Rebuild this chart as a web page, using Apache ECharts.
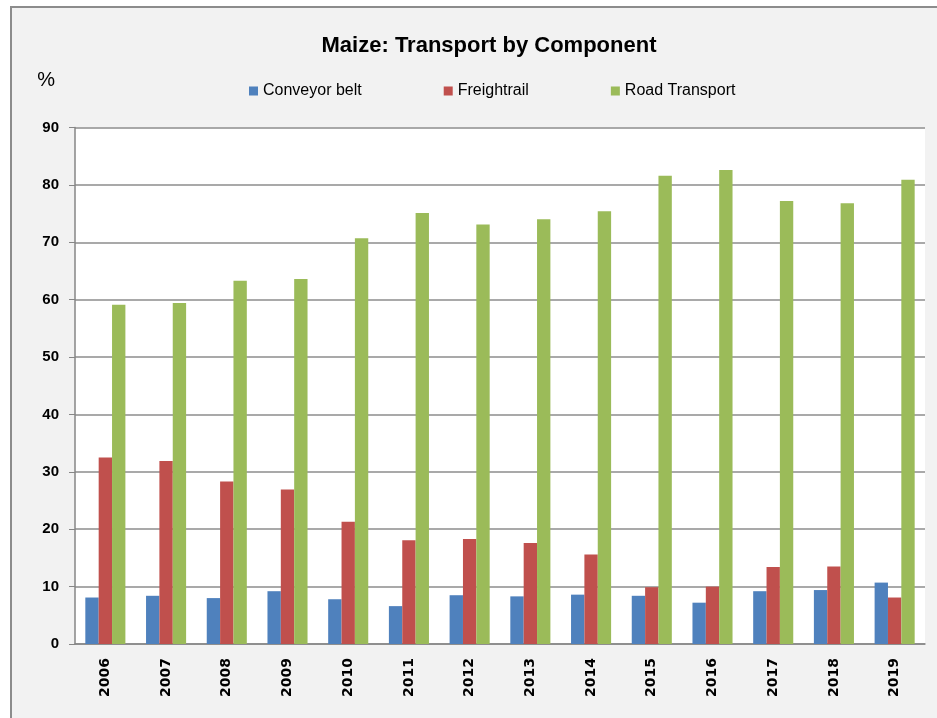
<!DOCTYPE html>
<html lang="en">
<head>
<meta charset="UTF-8">
<title>Maize: Transport by Component</title>
<script src="https://cdn.jsdelivr.net/npm/echarts@6/dist/echarts.min.js"></script>
<style>
  html,body{margin:0;width:937px;height:718px;background:#fff;overflow:hidden;}
  #frame{position:absolute;left:10px;top:6px;width:940px;height:730px;background:#f2f2f2;
         border-left:2px solid #8c8c8c;border-top:2px solid #8c8c8c;}
  #chart{position:absolute;left:0;top:0;width:937px;height:718px;}
</style>
</head>
<body>
<div id="frame"></div>
<div id="chart"></div>
<script>
const years = ['2006','2007','2008','2009','2010','2011','2012','2013','2014','2015','2016','2017','2018','2019'];
const conveyorBelt  = [8.1, 8.4, 8.0, 9.2, 7.8, 6.6, 8.5, 8.3, 8.6, 8.4, 7.2, 9.2, 9.4, 10.7];
const freightrail   = [32.5, 31.9, 28.3, 26.9, 21.3, 18.1, 18.3, 17.6, 15.6, 9.9, 10.0, 13.4, 13.5, 8.1];
const roadTransport = [59.1, 59.4, 63.3, 63.6, 70.7, 75.1, 73.1, 74.0, 75.4, 81.6, 82.6, 77.2, 76.8, 80.9];

const font = '"Liberation Sans", Arial, sans-serif';
const myChart = echarts.init(document.getElementById('chart'));

function bar(name, data, color){
  return {
    name, type:'bar', data,
    barGap:'0%', barCategoryGap:'34%',
    itemStyle:{color},
    emphasis:{disabled:true}
  };
}

myChart.setOption({
  backgroundColor:'transparent',
  animation:false,
  title:{
    text:'Maize: Transport by Component',
    left:484, top:30, textAlign:'center',
    textStyle:{fontFamily:font, fontWeight:'bold', fontSize:22, color:'#000'}
  },
  legend:{
    left:249, top:83, padding:0,
    itemGap:82, itemWidth:9, itemHeight:9,
    icon:'rect',
    textStyle:{fontFamily:font, fontSize:16, color:'#000'},
    data:['Conveyor belt','Freightrail','Road Transport']
  },
  grid:{
    left:75, right:12, top:127.5, bottom:74,
    show:true, backgroundColor:'#fff', borderWidth:0
  },
  xAxis:{
    type:'category', data:years,
    axisLine:{lineStyle:{color:'#868686', width:1.5}},
    axisTick:{length:6, lineStyle:{color:'#868686'}},
    axisLabel:{
      rotate:90, margin:14, interval:0,
      fontFamily:'"DejaVu Sans", sans-serif', fontWeight:'bold', fontSize:14, color:'#000'
    }
  },
  yAxis:{
    type:'value', min:0, max:90, interval:10,
    name:'%', nameLocation:'end', nameGap:37,
    nameTextStyle:{fontFamily:font, fontSize:20, color:'#000', align:'right', padding:[0,20,0,0]},
    axisLine:{show:true, lineStyle:{color:'#868686', width:1.5}},
    axisTick:{show:true, length:6, lineStyle:{color:'#868686'}},
    splitLine:{lineStyle:{color:'#8c8c8c', width:1.5}},
    axisLabel:{margin:16, fontFamily:font, fontWeight:'bold', fontSize:15, color:'#000'}
  },
  series:[
    bar('Conveyor belt', conveyorBelt, '#4f81bd'),
    bar('Freightrail', freightrail, '#c0504d'),
    bar('Road Transport', roadTransport, '#9bbb59')
  ]
});
</script>
</body>
</html>
